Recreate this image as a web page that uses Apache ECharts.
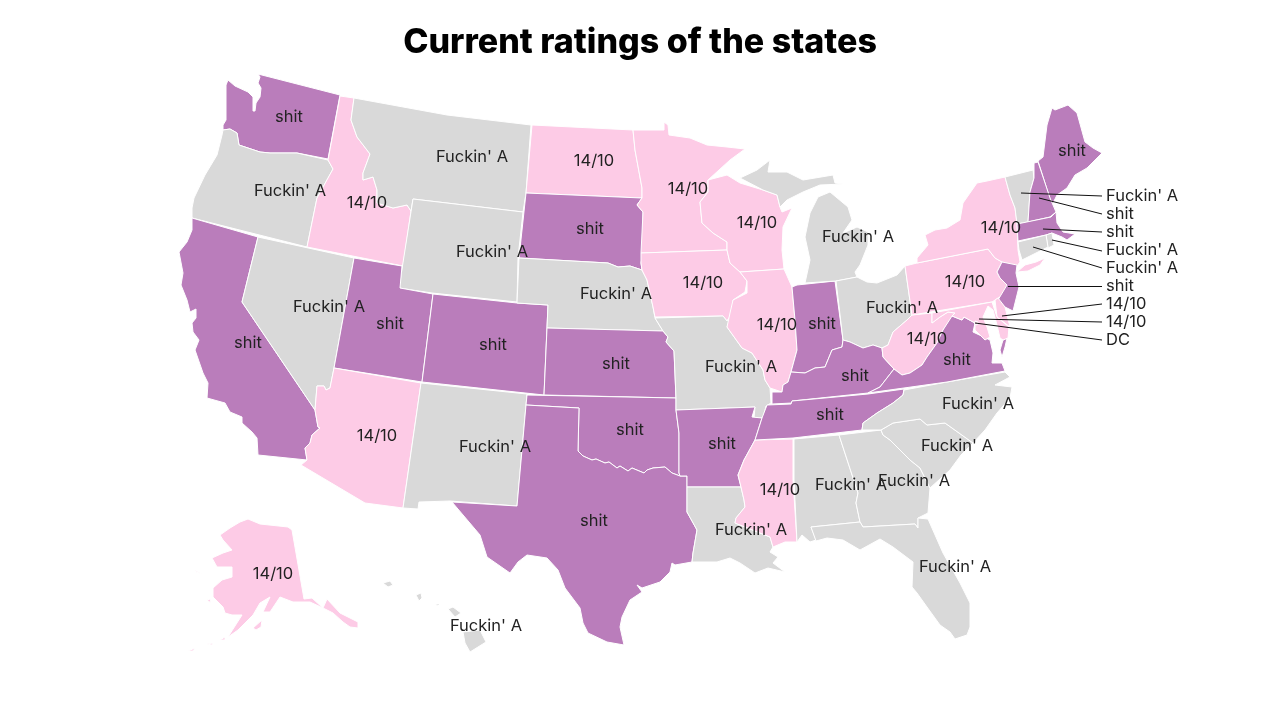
<!DOCTYPE html>
<html>
<head>
<meta charset="utf-8">
<title>Current ratings of the states</title>
<script src="https://cdn.jsdelivr.net/npm/echarts@6/dist/echarts.min.js"></script>
<style>
  html, body { margin: 0; padding: 0; background: #fff; }
  #chart { width: 1280px; height: 720px; }
</style>
</head>
<body>
<div id="chart"></div>
<script>
// ratings, 0 = shit, 1 = 14/10, 2 = Fuckin' A
var ratingNames = ['shit', '14/10', "Fuckin' A"];

var stateNames = [
  'Washington', 'Oregon', 'California', 'Nevada', 'Idaho', 'Montana', 'Wyoming', 'Utah', 'Arizona', 'Colorado',
  'New Mexico', 'North Dakota', 'South Dakota', 'Nebraska', 'Kansas', 'Oklahoma', 'Texas', 'Minnesota', 'Iowa', 'Missouri',
  'Arkansas', 'Louisiana', 'Wisconsin', 'Illinois', 'Indiana', 'Mississippi', 'Michigan', 'Ohio', 'Kentucky', 'Tennessee',
  'Alabama', 'Georgia', 'South Carolina', 'North Carolina', 'Florida', 'West Virginia', 'Virginia', 'Pennsylvania', 'New York', 'Maine',
  'Alaska', 'Hawaii', 'Vermont', 'New Hampshire', 'Massachusetts', 'Rhode Island', 'Connecticut', 'New Jersey', 'Delaware', 'Maryland',
  'District of Columbia'
];
var stateRatings = [
  0, 2, 0, 2, 1, 2, 2, 0, 1, 0,
  2, 1, 0, 2, 0, 0, 0, 1, 1, 2,
  0, 2, 1, 1, 0, 1, 2, 2, 0, 0,
  2, 2, 2, 2, 2, 1, 0, 1, 1, 0,
  1, 2, 2, 0, 0, 2, 2, 0, 1, 1,
  1
];

// these are too small for a label inside, they get a leader line
var calloutStates = ['Vermont', 'New Hampshire', 'Massachusetts', 'Rhode Island', 'Connecticut', 'New Jersey', 'Delaware', 'Maryland', 'District of Columbia'];
var calloutTexts = ["Fuckin' A", 'shit', 'shit', "Fuckin' A", "Fuckin' A", 'shit', '14/10', '14/10', 'DC'];

var ratingColors = ['#ba7dbb', '#fdcbe6', '#d9d9d9'];

// leader lines: [start, end] in map units
var calloutLeaders = [
  [[1021, 193], [1102, 196]], [[1039, 198], [1102, 214]], [[1043, 229], [1102, 232]],
  [[1052, 240], [1102, 251]], [[1033, 247], [1102, 268]], [[1008, 286], [1102, 286]],
  [[1002, 316], [1102, 304]], [[979, 319], [1102, 322]], [[975, 323], [1102, 340]]
];

// outlines, map units are page pixels. cp = label spot
var stateShapes = {
  'Washington': { cp: [289, 117], rings: [[[258,74],[340,95],[328,159],[297,153],[270,153],[260,152],[248,148],[239,145],[237,133],[230,129],[223,130],[223,125],[226,120],[226,85],[228,80],[235,86],[248,92],[253,97],[253,111],[255,111],[256,103],[260,97],[261,88],[258,83],[260,77]]] },
  'Oregon': { cp: [290, 191], rings: [[[223,130],[230,129],[237,133],[239,145],[248,148],[260,152],[270,153],[297,153],[328,160],[333,169],[317,198],[307,247],[192,218],[192,208],[194,198],[205,175],[217,155],[222,135]]] },
  'California': { cp: [248, 343], rings: [[[192,218],[258,237],[242,302],[315,410],[318,427],[320,428],[312,435],[310,443],[305,448],[307,460],[258,455],[257,438],[252,432],[242,423],[242,417],[230,412],[225,403],[207,398],[208,383],[203,373],[195,350],[199,340],[193,332],[192,323],[196,318],[196,309],[190,312],[187,300],[181,285],[183,273],[179,252],[187,242],[192,230]]] },
  'Nevada': { cp: [329, 307], rings: [[[258,237],[354,258],[334,368],[330,388],[326,390],[324,386],[317,386],[315,410],[242,302]]] },
  'Idaho': { cp: [367, 203], rings: [[[340,96],[354,98],[351,120],[357,137],[370,154],[363,173],[363,180],[373,177],[377,190],[377,203],[393,208],[407,205],[411,211],[403,266],[307,247],[317,198],[333,169],[328,160]]] },
  'Montana': { cp: [472, 157], rings: [[[354,98],[447,115],[531,125],[526,193],[523,212],[413,199],[411,211],[407,205],[393,208],[377,203],[377,190],[373,177],[363,180],[363,173],[370,154],[357,137],[351,120]]] },
  'Wyoming': { cp: [492, 252], rings: [[[413,199],[523,212],[518,258],[517,302],[432,293],[399,288]]] },
  'Utah': { cp: [390, 324], rings: [[[354,258],[402,266],[400,288],[433,294],[422,382],[334,368]]] },
  'Arizona': { cp: [377, 436], rings: [[[334,368],[421,383],[403,508],[365,503],[301,465],[307,460],[305,448],[310,443],[312,435],[320,428],[318,427],[315,410],[317,386],[324,386],[326,390],[330,388]]] },
  'Colorado': { cp: [493, 345], rings: [[[433,294],[517,303],[548,305],[544,395],[422,382]]] },
  'New Mexico': { cp: [495, 447], rings: [[[421,383],[527,394],[517,506],[450,501],[419,502],[418,509],[403,508]]] },
  'North Dakota': { cp: [594, 161], rings: [[[532,125],[633,130],[635,150],[642,188],[642,198],[526,193]]] },
  'South Dakota': { cp: [590, 229], rings: [[[526,193],[642,198],[637,205],[643,212],[643,252],[641,263],[642,270],[630,266],[618,267],[608,263],[519,258]]] },
  'Nebraska': { cp: [616, 294], rings: [[[519,258],[608,263],[618,267],[630,266],[642,270],[647,280],[653,307],[655,318],[663,331],[547,328],[548,305],[517,303]]] },
  'Kansas': { cp: [616, 364], rings: [[[547,328],[663,331],[668,337],[666,342],[674,351],[676,398],[544,395]]] },
  'Oklahoma': { cp: [630, 430], rings: [[[527,395],[676,398],[676,410],[679,433],[679,473],[680,476],[672,473],[665,467],[653,468],[647,470],[644,473],[632,468],[628,471],[620,466],[617,468],[609,462],[605,463],[596,459],[592,460],[583,456],[578,451],[579,408],[526,405]]] },
  'Texas': { cp: [594, 521], rings: [[[526,405],[579,408],[578,451],[583,456],[592,460],[596,459],[605,463],[609,462],[617,468],[620,466],[628,471],[632,468],[644,473],[647,470],[653,468],[665,467],[672,473],[680,476],[687,476],[687,512],[697,530],[693,553],[692,562],[675,565],[672,563],[670,572],[660,582],[642,588],[637,585],[642,592],[630,600],[622,617],[620,627],[624,645],[607,642],[588,633],[583,623],[580,608],[565,588],[558,570],[547,558],[527,555],[518,562],[510,573],[487,557],[480,535],[452,502],[517,506]]] },
  'Minnesota': { cp: [688, 189], rings: [[[633,130],[664,130],[664,122],[668,125],[669,135],[690,138],[707,145],[727,147],[745,149],[730,160],[708,180],[708,192],[700,202],[702,223],[713,233],[727,242],[727,250],[641,253],[643,212],[637,205],[642,198],[642,188],[635,150]]] },
  'Iowa': { cp: [703, 283], rings: [[[641,253],[727,250],[730,263],[740,272],[747,281],[745,292],[733,300],[733,312],[727,321],[723,316],[655,317],[653,307],[647,280],[642,270],[641,263]]] },
  'Missouri': { cp: [741, 367], rings: [[[655,318],[723,316],[727,321],[733,312],[727,327],[742,348],[752,353],[763,370],[765,380],[770,388],[771,403],[766,406],[763,418],[754,418],[755,407],[676,410],[676,398],[674,351],[666,342],[668,337],[663,331]]] },
  'Arkansas': { cp: [722, 444], rings: [[[676,410],[755,407],[752,417],[762,418],[755,440],[744,460],[738,475],[741,487],[687,487],[687,476],[680,476],[679,473],[679,433]]] },
  'Louisiana': { cp: [751, 530], rings: [[[687,487],[741,487],[744,500],[745,507],[736,518],[735,523],[770,537],[773,547],[770,552],[778,557],[773,563],[785,572],[768,568],[755,573],[740,563],[730,558],[717,562],[692,562],[693,553],[697,530],[687,512]]] },
  'Wisconsin': { cp: [757, 223], rings: [[[708,180],[727,175],[740,183],[763,190],[777,195],[780,207],[782,212],[792,208],[783,227],[782,250],[784,269],[740,272],[730,263],[727,250],[727,242],[713,233],[702,223],[700,202],[708,192]]] },
  'Illinois': { cp: [777, 325], rings: [[[740,272],[784,269],[792,287],[795,320],[797,350],[791,372],[788,382],[783,385],[782,392],[770,388],[765,380],[763,370],[752,353],[742,348],[727,327],[730,313],[733,300],[747,293],[747,281]]] },
  'Indiana': { cp: [822, 324], rings: [[[792,287],[797,285],[835,281],[843,340],[842,347],[832,350],[825,367],[815,368],[805,373],[791,372],[797,350],[795,320]]] },
  'Mississippi': { cp: [780, 490], rings: [[[755,440],[793,439],[793,480],[797,542],[785,542],[773,547],[770,537],[735,523],[736,518],[745,507],[744,500],[741,487],[738,475],[744,460]]] },
  'Michigan': { cp: [858, 237], rings: [
    [[740,178],[757,170],[770,160],[768,172],[787,172],[803,180],[833,175],[835,183],[843,184],[820,185],[803,192],[787,200],[780,207],[777,195],[763,190]],
    [[818,197],[830,192],[848,207],[852,220],[843,233],[857,227],[868,232],[868,245],[860,265],[855,272],[857,277],[836,281],[805,283],[810,260],[805,237],[810,213]]
  ] },
  'Ohio': { cp: [902, 308], rings: [[[836,281],[857,277],[867,282],[877,283],[897,275],[905,266],[912,315],[907,320],[893,332],[888,345],[882,348],[873,345],[863,348],[850,342],[843,340]]] },
  'Kentucky': { cp: [855, 376], rings: [[[772,404],[792,403],[792,401],[868,393],[880,387],[894,369],[883,357],[882,348],[873,345],[863,348],[850,342],[843,340],[842,347],[832,350],[825,367],[815,368],[805,373],[791,372],[788,382],[783,385],[782,392],[772,392]]] },
  'Tennessee': { cp: [830, 415], rings: [[[767,405],[791,404],[792,401],[868,394],[904,389],[903,395],[893,403],[877,413],[863,423],[862,430],[793,438],[755,440],[762,418]]] },
  'Alabama': { cp: [851, 485], rings: [[[794,439],[839,435],[858,493],[856,503],[860,522],[811,527],[816,540],[810,542],[802,535],[797,542],[794,480]]] },
  'Georgia': { cp: [914, 481], rings: [[[839,435],[881,430],[883,435],[890,440],[910,460],[920,468],[930,488],[928,513],[918,518],[918,528],[915,524],[863,527],[860,522],[856,503],[858,493]]] },
  'South Carolina': { cp: [957, 446], rings: [[[881,430],[893,423],[920,419],[927,425],[945,423],[973,443],[961,455],[950,470],[930,488],[920,468],[910,460],[890,440],[883,435]]] },
  'North Carolina': { cp: [978, 404], rings: [[[904,390],[947,382],[1005,372],[1010,377],[995,385],[1012,387],[1010,398],[997,413],[985,430],[973,443],[945,423],[927,425],[920,419],[893,423],[881,430],[862,430],[863,423],[877,413],[893,403],[903,395]]] },
  'Florida': { cp: [955, 567], rings: [[[811,527],[860,522],[863,527],[915,524],[918,528],[918,518],[928,519],[943,553],[960,583],[970,603],[970,627],[967,635],[955,639],[950,632],[940,625],[927,607],[917,593],[912,587],[913,562],[893,547],[880,539],[860,550],[843,540],[827,538],[816,541]]] },
  'West Virginia': { cp: [927, 339], rings: [[[894,369],[883,357],[882,348],[888,345],[893,332],[907,320],[912,315],[932,313],[932,323],[940,317],[948,312],[955,313],[952,317],[943,330],[937,343],[927,357],[922,365],[910,373],[902,375]]] },
  'Virginia': { cp: [957, 360], rings: [
    [[868,393],[947,382],[1005,371],[1002,363],[992,363],[993,353],[990,340],[973,332],[975,323],[964,317],[962,320],[952,316],[943,330],[937,343],[927,357],[922,365],[910,373],[902,375],[894,369],[880,387]],
    [[1007,338],[1005,347],[1002,357],[1000,350],[1003,340]]
  ] },
  'Pennsylvania': { cp: [965, 282], rings: [[[905,266],[917,263],[988,249],[995,258],[1002,262],[997,272],[1000,278],[1007,285],[1003,295],[995,300],[992,302],[912,315]]] },
  'New York': { cp: [1001, 228], rings: [
    [[1005,177],[1010,195],[1015,208],[1017,223],[1018,250],[1020,262],[1017,266],[1002,262],[995,258],[988,249],[917,263],[917,258],[928,245],[925,235],[935,230],[947,228],[960,220],[963,203],[977,183],[987,181]],
    [[1017,272],[1025,265],[1036,262],[1045,258],[1040,265],[1028,271]]
  ] },
  'Maine': { cp: [1072, 151], rings: [[[1038,161],[1043,157],[1047,125],[1052,108],[1055,110],[1068,105],[1077,113],[1085,142],[1093,148],[1102,153],[1087,168],[1075,175],[1067,188],[1057,195],[1052,205]]] },
  'Alaska': { cp: [273, 574], rings: [
    [[248,519],[260,524],[288,527],[292,530],[304,599],[312,598],[323,608],[327,599],[340,613],[358,622],[358,628],[350,627],[343,622],[333,613],[323,608],[310,602],[293,602],[280,597],[270,612],[263,612],[270,597],[260,603],[253,615],[238,630],[228,637],[242,615],[232,615],[225,613],[223,607],[213,597],[213,588],[222,580],[232,577],[232,567],[217,567],[212,558],[223,553],[232,550],[223,540],[220,535],[230,528],[240,522]],
    [[207,600],[210,599],[211,603]], [[194,570],[202,574],[196,572]], [[253,628],[262,620],[261,627],[256,630]],
    [[220,640],[225,637],[225,640]], [[207,644],[213,643],[212,645]], [[188,651],[195,648],[193,651]]
  ] },
  'Hawaii': { cp: [486, 626], rings: [
    [[463,632],[480,630],[486,642],[470,652],[465,643]], [[448,609],[453,607],[461,613],[455,617]],
    [[435,604],[440,604],[438,606]], [[416,595],[421,593],[422,598],[419,601]], [[383,583],[390,581],[393,585],[388,587]]
  ] },
  'Vermont': { rings: [[[1005,177],[1033,170],[1034,178],[1030,192],[1028,222],[1017,224],[1015,208],[1010,195]]] },
  'New Hampshire': { rings: [[[1034,163],[1038,162],[1050,198],[1056,212],[1050,217],[1028,222],[1030,192],[1034,178]]] },
  'Massachusetts': { rings: [[[1017,224],[1051,217],[1056,212],[1057,223],[1063,232],[1075,234],[1067,240],[1062,237],[1052,233],[1046,235],[1018,241]]] },
  'Rhode Island': { rings: [[[1046,235],[1052,233],[1054,245],[1048,248]]] },
  'Connecticut': { rings: [[[1018,242],[1046,235],[1048,247],[1022,260],[1019,250]]] },
  'New Jersey': { rings: [[[1002,262],[1017,265],[1016,273],[1019,287],[1013,311],[1005,307],[998,300],[1007,285],[1000,278],[997,272]]] },
  'Delaware': { rings: [[[995,300],[998,298],[1005,307],[1010,327],[997,317]]] },
  'Maryland': { rings: [[[932,313],[992,302],[997,317],[1009,327],[1008,338],[1003,340],[1000,338],[997,325],[993,310],[988,306],[983,317],[987,327],[990,337],[985,340],[975,330],[975,323],[964,317],[962,320],[952,316],[955,313],[948,312],[940,317],[932,323]]] },
  'District of Columbia': { rings: [[[975,321],[978,322],[977,325],[975,324]]] }
};

// build the geojson and find its extent
var features = [];
var minX = Infinity, minY = Infinity, maxX = -Infinity, maxY = -Infinity;
stateNames.forEach(function (name) {
  var shape = stateShapes[name];
  shape.rings.forEach(function (ring) {
    ring.forEach(function (p) {
      minX = Math.min(minX, p[0]); maxX = Math.max(maxX, p[0]);
      minY = Math.min(minY, p[1]); maxY = Math.max(maxY, p[1]);
    });
  });
  features.push({
    type: 'Feature',
    properties: { name: name, cp: shape.cp || shape.rings[0][0] },
    geometry: { type: 'MultiPolygon', coordinates: shape.rings.map(function (r) { return [r.concat([r[0]])]; }) }
  });
});
echarts.registerMap('usa', { type: 'FeatureCollection', features: features });

// map units are already page pixels, no flip and no stretch wanted
var flatProjection = {
  project: function (p) { return [p[0], p[1]]; },
  unproject: function (p) { return [p[0], p[1]]; }
};
var mapBox = { left: minX, top: minY, width: maxX - minX, height: maxY - minY };

var labelFont = { fontFamily: 'Inter', fontSize: 16.5, color: '#222' };

var myChart = echarts.init(document.getElementById('chart'));

myChart.setOption({
  animation: false,
  backgroundColor: '#fff',
  title: {
    text: 'Current ratings of the states',
    left: 'center',
    top: 21,
    textStyle: { fontFamily: 'Inter', fontWeight: 800, fontSize: 34, color: '#000' }
  },
  visualMap: {
    show: false,
    type: 'piecewise',
    seriesIndex: 0,
    pieces: [
      { value: 0, color: ratingColors[0] },
      { value: 1, color: ratingColors[1] },
      { value: 2, color: ratingColors[2] }
    ]
  },
  // hidden geo, it only gives the leader lines the same coordinates as the map
  geo: Object.assign({ map: 'usa', show: false, projection: flatProjection, silent: true }, mapBox),
  series: [
    Object.assign({
      type: 'map',
      map: 'usa',
      projection: flatProjection,
      silent: true,
      selectedMode: false,
      itemStyle: { borderColor: '#fff', borderWidth: 1 },
      label: Object.assign({
        show: true,
        formatter: function (params) { return ratingNames[params.value]; }
      }, labelFont),
      emphasis: { disabled: true },
      data: stateNames.map(function (name, i) {
        var item = { name: name, value: stateRatings[i] };
        if (calloutStates.indexOf(name) >= 0) {
          item.label = { show: false };
        }
        return item;
      })
    }, mapBox),
    {
      type: 'lines',
      coordinateSystem: 'geo',
      silent: true,
      symbol: 'none',
      lineStyle: { color: '#111', width: 1, opacity: 1, curveness: 0 },
      data: calloutLeaders.map(function (c) { return { coords: c }; }),
      z: 5
    },
    {
      type: 'scatter',
      coordinateSystem: 'geo',
      silent: true,
      symbolSize: 0,
      itemStyle: { opacity: 1 },
      label: Object.assign({
        show: true,
        position: 'right',
        distance: 4,
        opacity: 1,
        formatter: function (params) { return calloutTexts[params.dataIndex]; }
      }, labelFont),
      data: calloutLeaders.map(function (c, i) { return [c[1][0], 196 + i * 18]; }),
      z: 6
    }
  ]
});
</script>
</body>
</html>
